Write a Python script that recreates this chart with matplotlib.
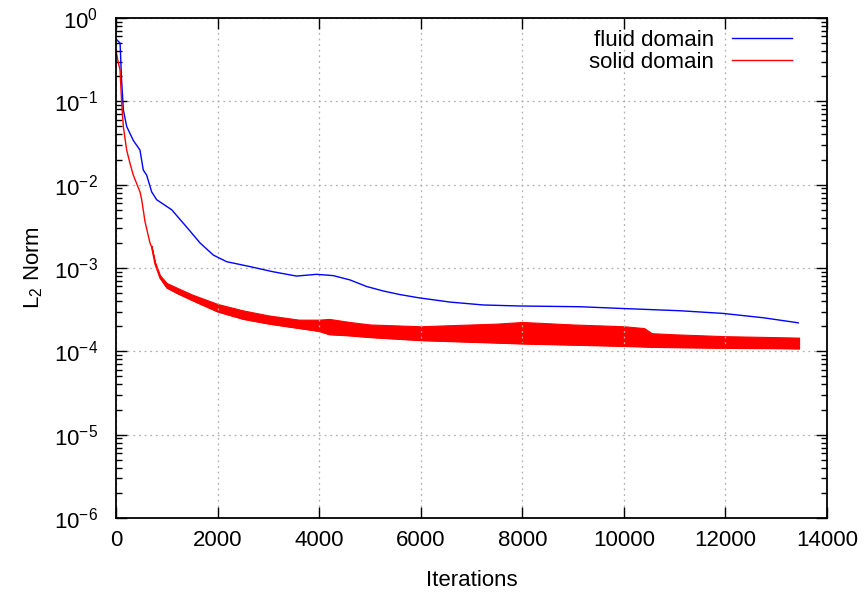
import matplotlib
matplotlib.use("Agg")
import matplotlib.pyplot as plt
from matplotlib.ticker import LogLocator, NullFormatter, FixedLocator

plt.rcParams['font.family'] = ['Liberation Sans', 'DejaVu Sans']
plt.rcParams['mathtext.fontset'] = 'custom'
plt.rcParams['mathtext.rm'] = 'Liberation Sans'
plt.rcParams['mathtext.it'] = 'Liberation Sans'

# fluid domain residual
fluid_iter = [0, 80, 95, 110, 145, 210, 340, 472, 537, 604, 702, 800, 1096, 1391,
              1654, 1916, 2179, 2638, 3097, 3556, 3950, 4278, 4605, 4934, 5262,
              5590, 5952, 6577, 7233, 7955, 9136, 9957, 11104, 11957, 12744, 13433]
fluid_res = [0.56, 0.50, 0.30, 0.18, 0.079, 0.05, 0.034, 0.026, 0.015, 0.013,
             0.0082, 0.0066, 0.005, 0.0031, 0.0020, 0.00143, 0.00119, 0.00104,
             0.0009, 0.0008, 0.00084, 0.00081, 0.00072, 0.0006, 0.00053, 0.00048,
             0.00044, 0.00039, 0.00036, 0.00035, 0.000343, 0.000327, 0.000307,
             0.000285, 0.000253, 0.00022]

# solid domain residual: smooth initial decay
solid_iter = [0, 40, 79, 110, 144, 210, 276, 341, 472, 506, 571, 669]
solid_res = [0.41, 0.30, 0.24, 0.10, 0.05, 0.026, 0.018, 0.013, 0.0082, 0.0066,
             0.0036, 0.002]

# solid domain residual: oscillation band (lower / upper envelope)
band_iter = [700, 768, 866, 1000, 1200, 1500, 2000, 2500, 3000, 3600, 4000, 4200,
             4600, 5000, 6000, 7000, 7500, 8000, 9000, 9500, 10000, 10400, 10550,
             11000, 12000, 13000, 13450]
band_low = [0.0018, 0.00112, 0.00076, 0.00058, 0.0005, 0.00041, 0.00030, 0.000245,
            0.000215, 0.00019, 0.000175, 0.00016, 0.000155, 0.000148, 0.000136,
            0.00013, 0.000127, 0.000124, 0.00012, 0.000118, 0.000116, 0.000114,
            0.000113, 0.000112, 0.00011, 0.000109, 0.000108]
band_high = [0.00185, 0.00118, 0.00082, 0.00066, 0.00058, 0.00048, 0.00037, 0.00031,
             0.00027, 0.00024, 0.00024, 0.000245, 0.000225, 0.00021, 0.0002,
             0.00021, 0.000215, 0.000225, 0.00021, 0.000205, 0.0002, 0.00019,
             0.000165, 0.00016, 0.000152, 0.000148, 0.000146]

x_ticks = [0, 2000, 4000, 6000, 8000, 10000, 12000, 14000]
y_ticks = [1e-6, 1e-5, 1e-4, 1e-3, 1e-2, 1e-1, 1e0]
y_labels = ['10$^{-6}$', '10$^{-5}$', '10$^{-4}$', '10$^{-3}$', '10$^{-2}$',
            '10$^{-1}$', '10$^{0}$']

fig = plt.figure(figsize=(8.65, 5.96), dpi=100)
ax = fig.add_axes([116 / 865, 1 - 518 / 596, (827 - 116) / 865, (518 - 18) / 596])

ax.plot(fluid_iter, fluid_res, color='#0000ff', lw=1.0, label='fluid domain')
ax.plot(solid_iter + band_iter, solid_res + band_low, color='#ff0000', lw=1.0,
        label='solid domain')
ax.fill_between(band_iter, band_low, band_high, color='#ff0000', lw=0.8,
                edgecolor='#ff0000')

ax.set_yscale('log')
ax.set_xlim(0, 14000)
ax.set_ylim(1e-6, 1)
ax.set_xticks(x_ticks)
ax.set_xticklabels([str(t) for t in x_ticks])
ax.yaxis.set_major_locator(FixedLocator(y_ticks))
ax.set_yticklabels(y_labels)
ax.yaxis.set_minor_locator(LogLocator(base=10, subs=range(2, 10), numticks=20))
ax.yaxis.set_minor_formatter(NullFormatter())

ax.tick_params(which='both', direction='in', top=True, right=True,
               labelsize=16, colors='black', width=1.0)
ax.tick_params(which='major', length=8)
ax.tick_params(axis='x', which='major', pad=9)
ax.tick_params(axis='y', which='major', pad=13)
ax.tick_params(which='minor', length=4)
for s in ax.spines.values():
    s.set_linewidth(1.3)

ax.grid(True, which='major', color='#b0b0b0', linestyle=(0, (1.5, 3)), lw=0.9)

ax.set_xlabel('Iterations', fontsize=16, labelpad=13)
ax.set_ylabel('L$_2$ Norm', fontsize=16, labelpad=6)

leg = ax.legend(loc='upper right', frameon=False, fontsize=16, markerfirst=False,
                handlelength=2.7, handletextpad=0.8, labelspacing=0.05,
                borderaxespad=0.1, bbox_to_anchor=(0.9665, 0.998))
for t in leg.get_texts():
    t.set_ha('right')

fig.savefig('out.png', dpi=100)
